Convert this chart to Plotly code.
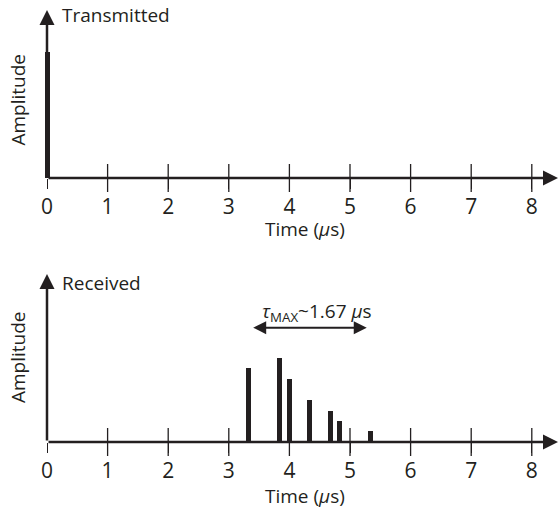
import plotly.graph_objects as go

# ---- data ----
tx_times = [0.0]
tx_amps = [1.0]
rx_times = [3.33, 3.83, 4.0, 4.33, 4.67, 4.83, 5.33]
rx_amps = [0.59, 0.67, 0.5, 0.33, 0.25, 0.17, 0.087]
tick_vals = [0, 1, 2, 3, 4, 5, 6, 7, 8]
tick_text = ["0", "1", "2", "3", "4", "5", "6", "7", "8"]
tau_start, tau_end = 3.378, 5.276
tau_level = 0.907
tau_label = "<i>τ</i><sub>MAX</sub>~1.67 <i>μ</i>s"
x_label = "Time (<i>μ</i>s)"
y_label = "Amplitude"
top_title = "Transmitted"
bottom_title = "Received"

# ---- geometry ----
W, H = 558, 509
X0_PX = 47.0          # pixel of t=0
PX_PER_US = 60.6
PX_PER_AMP = 126.0
x_range = [-X0_PX / PX_PER_US, (W - X0_PX) / PX_PER_US]
y_top_max = 4 / 3
INK = "#231f20"
FONT = "Open Sans"
FS = 19
BAR_W = 5 / PX_PER_US


def py(pix):
    return 1 - pix / H


top_axis_px, top_tip_px = 178, 10
bot_axis_px, bot_tip_px = 442, 275

fig = go.Figure()

fig.add_trace(go.Bar(x=tx_times, y=tx_amps, width=BAR_W, marker=dict(color=INK, line=dict(width=0)),
                     xaxis="x", yaxis="y"))
fig.add_trace(go.Bar(x=rx_times, y=rx_amps, width=BAR_W, marker=dict(color=INK, line=dict(width=0)),
                     xaxis="x2", yaxis="y2"))

# crossing tick marks
for xa, ya in (("x", "y"), ("x2", "y2")):
    fig.add_trace(go.Scatter(x=tick_vals[1:], y=[0] * (len(tick_vals) - 1), mode="markers",
                             marker=dict(symbol="line-ns", size=20, line=dict(width=1.3, color=INK)),
                             cliponaxis=False, hoverinfo="skip", xaxis=xa, yaxis=ya))

axis_common = dict(range=x_range, tickvals=tick_vals, ticktext=tick_text, showgrid=False,
                   zeroline=False, showline=False, ticks="outside", ticklen=10, tickwidth=1.3,
                   tickcolor=INK, tickfont=dict(family=FONT, size=21, color=INK), fixedrange=True,
                   ticklabelstandoff=0)
yaxis_common = dict(showgrid=False, zeroline=False, showline=False, showticklabels=False,
                    ticks="", fixedrange=True)

fig.update_layout(
    width=W, height=H, margin=dict(l=0, r=0, t=0, b=0),
    paper_bgcolor="white", plot_bgcolor="white", showlegend=False,
    bargap=0,
    xaxis=dict(domain=[0, 1], anchor="y", **axis_common),
    xaxis2=dict(domain=[0, 1], anchor="y2", **axis_common),
    yaxis=dict(domain=[py(top_axis_px), py(top_tip_px)],
               range=[0, (top_axis_px - top_tip_px) / PX_PER_AMP], anchor="x", **yaxis_common),
    yaxis2=dict(domain=[py(bot_axis_px), py(bot_tip_px)],
                range=[0, (bot_axis_px - bot_tip_px) / PX_PER_AMP], anchor="x2", **yaxis_common),
)

ann = []
# axis arrows
for xa, ya in (("x", "y"), ("x2", "y2")):
    ann.append(dict(x=x_range[1], y=0, ax=0, ay=0, xref=xa, yref=ya, axref=xa, ayref=ya,
                    text="", showarrow=True, arrowhead=2, arrowsize=1.2, arrowwidth=2.5,
                    arrowcolor=INK, standoff=0, startstandoff=0))
    ann.append(dict(x=0, y=y_top_max, ax=0, ay=0, xref=xa, yref=ya, axref=xa, ayref=ya,
                    text="", showarrow=True, arrowhead=2, arrowsize=1.2, arrowwidth=2.5,
                    arrowcolor=INK, standoff=0, startstandoff=0))
# tau double arrow
ann.append(dict(x=tau_end, y=tau_level, ax=tau_start, ay=tau_level, xref="x2", yref="y2",
                axref="x2", ayref="y2", text="", showarrow=True, arrowhead=2, startarrowhead=2,
                arrowside="end+start", arrowsize=1.3, startarrowsize=1.3, arrowwidth=2,
                arrowcolor=INK, standoff=0, startstandoff=0))

txt = dict(showarrow=False, font=dict(family=FONT, size=FS, color=INK), xref="paper", yref="paper")
ann += [
    dict(text=top_title, x=60 / W, y=py(15), xanchor="left", yanchor="middle", **txt),
    dict(text=bottom_title, x=60 / W, y=py(283), xanchor="left", yanchor="middle", **txt),
    dict(text=y_label, x=18 / W, y=py(99.5), textangle=-90, xanchor="center", yanchor="middle", **txt),
    dict(text=y_label, x=18 / W, y=py(357), textangle=-90, xanchor="center", yanchor="middle", **txt),
    dict(text=x_label, x=305 / W, y=py(229), xanchor="center", yanchor="middle", **txt),
    dict(text=x_label, x=305 / W, y=py(496), xanchor="center", yanchor="middle", **txt),
    dict(text=tau_label, x=317 / W, y=py(312), xanchor="center", yanchor="middle", **txt),
]
fig.update_layout(annotations=ann)

fig.write_html("out.html", config={"displayModeBar": False},
               post_script="document.body.style.margin='0';document.body.style.overflow='hidden';")
